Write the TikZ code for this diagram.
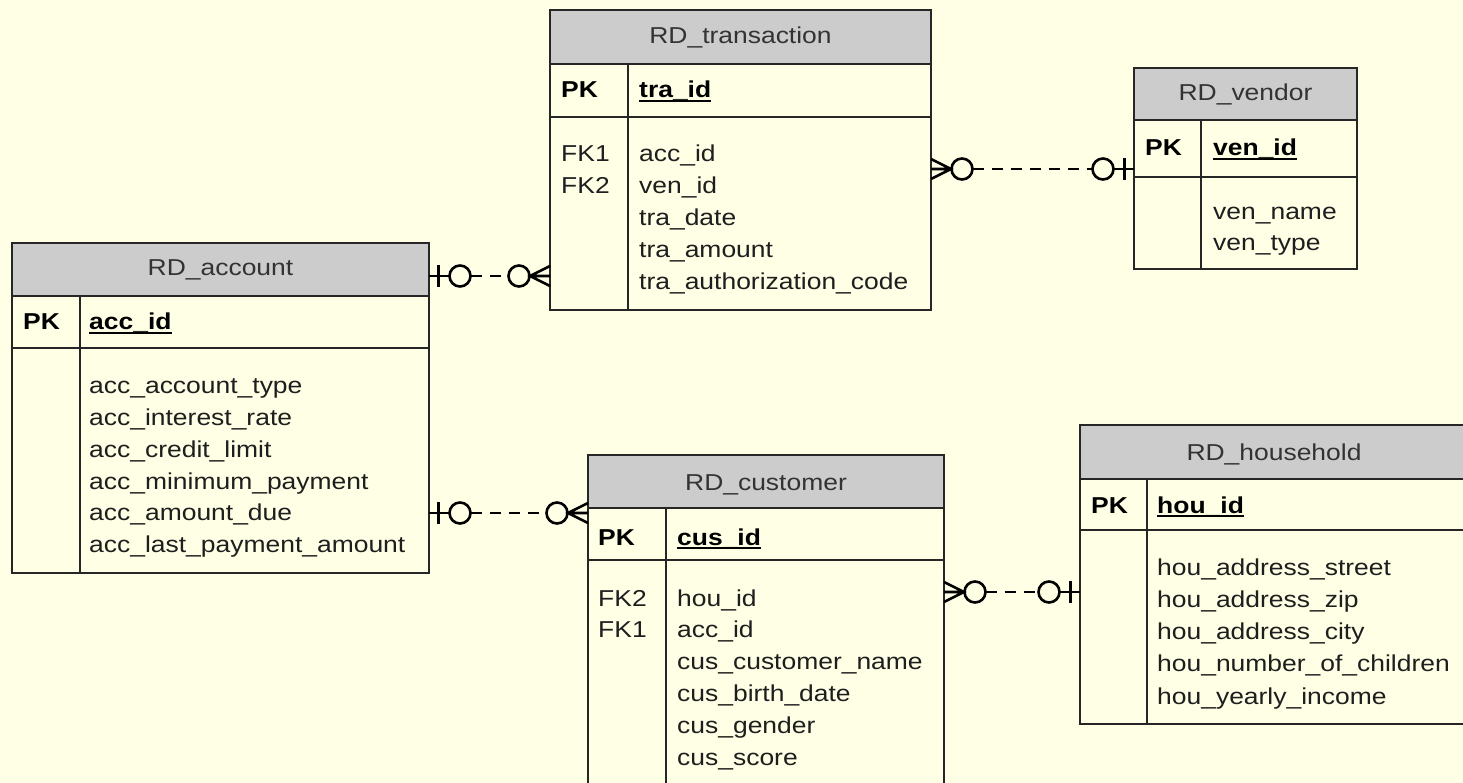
\documentclass[tikz,border=0pt]{standalone}
\usepackage{fontspec}
\setmainfont{Liberation Sans}[FakeStretch=1.15]
\usetikzlibrary{calc}

\definecolor{paper}{HTML}{FFFFE6}
\definecolor{hdrgray}{HTML}{CCCCCC}
\definecolor{ink}{HTML}{262626}
\definecolor{txt}{HTML}{1E1E1E}
\definecolor{ttl}{HTML}{333333}

% underlined primary-key field name
\newlength\pkw
\newcommand\pkul[1]{\settowidth\pkw{#1}\rlap{\rule[-0.17em]{\pkw}{0.08em}}#1}

% one table frame: name, x1, y1, x2, y2, header bottom, key-row bottom, column divider
\newcommand\erbox[8]{%
  \fill[hdr] (#2,#3) rectangle (#4,#6);
  \node[tbl, minimum width=#4pt-#2pt, minimum height=#5pt-#3pt, anchor=north west] (#1) at (#2,#3) {};
  \draw[rule] (#2,#6) -- (#4,#6) (#2,#7) -- (#4,#7) (#8,#6) -- (#8,#5);
}

\tikzset{
  tbl/.style={draw=ink, line width=2pt, inner sep=0pt, outer sep=0pt},
  rule/.style={draw=ink, line width=1.8pt},
  hdr/.style={fill=hdrgray},
  ttlnode/.style={anchor=base, inner sep=0pt, text=ttl, font=\fontsize{23}{28}\selectfont},
  keyname/.style={anchor=base west, inner sep=0pt, text=black, font=\fontsize{23}{28}\selectfont\bfseries},
  attr/.style={anchor=base west, inner sep=0pt, text=txt, font=\fontsize{23}{28}\selectfont},
  cardline/.style={draw=black, line width=2.6pt},
  rel/.style={draw=black, line width=2.4pt, dash pattern=on 11pt off 8pt,
    shorten <=41.5pt, shorten >=41.5pt},
  % zero-or-one end: bar and ring
  zeroone/.pic={
    \draw[cardline] (0,0) -- (20.5,0);
    \draw[cardline] (9.5,-11) -- (9.5,11);
    \draw[cardline] (31,0) circle (10.5pt);
  },
  % zero-or-many end: crow's foot and ring
  zeromany/.pic={
    \draw[cardline, line join=miter] (0,-10) -- (20,0) -- (0,10) (0,0) -- (20.5,0);
    \draw[cardline] (31,0) circle (10.5pt);
  }
}

\begin{document}
\begin{tikzpicture}[x=1pt, y=-1pt]
\useasboundingbox (0,0) rectangle (1463,783);
\clip (0,0) rectangle (1463,783);
\fill[paper] (0,0) rectangle (1463,783);

% ---------- RD_account ----------
\erbox{acc}{12}{243}{429}{573}{296}{348}{80}
\node[ttlnode] (acc-t) at (220.5,276) {RD\_account};
\node[keyname] (acc-pk) at (23,330) {PK};
\node[keyname] (acc-k) at (89,330) {\pkul{acc\_id}};
\node[attr] (acc-a1) at (89,393.5) {acc\_account\_type};
\node[attr] (acc-a2) at (89,425.3) {acc\_interest\_rate};
\node[attr] (acc-a3) at (89,457) {acc\_credit\_limit};
\node[attr] (acc-a4) at (89,489) {acc\_minimum\_payment};
\node[attr] (acc-a5) at (89,520.5) {acc\_amount\_due};
\node[attr] (acc-a6) at (89,552.3) {acc\_last\_payment\_amount};

% ---------- RD_transaction ----------
\erbox{tra}{550}{10}{931}{310}{64}{117}{628}
\node[ttlnode] (tra-t) at (740.5,44) {RD\_transaction};
\node[keyname] (tra-pk) at (561,98) {PK};
\node[keyname] (tra-k) at (639,98) {\pkul{tra\_id}};
\node[attr] (tra-f1) at (561,161.5) {FK1};
\node[attr] (tra-f2) at (561,193.5) {FK2};
\node[attr] (tra-a1) at (639,161.5) {acc\_id};
\node[attr] (tra-a2) at (639,193.5) {ven\_id};
\node[attr] (tra-a3) at (639,225.5) {tra\_date};
\node[attr] (tra-a4) at (639,257.5) {tra\_amount};
\node[attr] (tra-a5) at (639,290) {tra\_authorization\_code};

% ---------- RD_vendor ----------
\erbox{ven}{1134}{68}{1357}{269}{120}{177}{1201}
\node[ttlnode] (ven-t) at (1245.5,101) {RD\_vendor};
\node[keyname] (ven-pk) at (1145,156) {PK};
\node[keyname] (ven-k) at (1213,156) {\pkul{ven\_id}};
\node[attr] (ven-a1) at (1213,219.5) {ven\_name};
\node[attr] (ven-a2) at (1213,250.5) {ven\_type};

% ---------- RD_customer ----------
\erbox{cus}{588}{455}{944}{805}{508}{560}{666}
\node[ttlnode] (cus-t) at (766,490) {RD\_customer};
\node[keyname] (cus-pk) at (598,545) {PK};
\node[keyname] (cus-k) at (677,545) {\pkul{cus\_id}};
\node[attr] (cus-f1) at (598,606.5) {FK2};
\node[attr] (cus-f2) at (598,637.5) {FK1};
\node[attr] (cus-a1) at (677,606.5) {hou\_id};
\node[attr] (cus-a2) at (677,637.5) {acc\_id};
\node[attr] (cus-a3) at (677,669.5) {cus\_customer\_name};
\node[attr] (cus-a4) at (677,701.5) {cus\_birth\_date};
\node[attr] (cus-a5) at (677,733.5) {cus\_gender};
\node[attr] (cus-a6) at (677,765.5) {cus\_score};

% ---------- RD_household ----------
\erbox{hou}{1080}{425}{1468}{724}{479}{530}{1147}
\node[ttlnode] (hou-t) at (1274,460) {RD\_household};
\node[keyname] (hou-pk) at (1091,513) {PK};
\node[keyname] (hou-k) at (1157,513) {\pkul{hou\_id}};
\node[attr] (hou-a1) at (1157,575.5) {hou\_address\_street};
\node[attr] (hou-a2) at (1157,607.5) {hou\_address\_zip};
\node[attr] (hou-a3) at (1157,639.5) {hou\_address\_city};
\node[attr] (hou-a4) at (1157,671.5) {hou\_number\_of\_children};
\node[attr] (hou-a5) at (1157,704.5) {hou\_yearly\_income};

% ---------- relationships ----------
\coordinate (r1) at (0,276);
\coordinate (r2) at (0,169);
\coordinate (r3) at (0,513);
\coordinate (r4) at (0,592);

% account 0..1 -- 0..* transaction
\pic at (acc.east |- r1) {zeroone};
\pic[rotate=180] at (tra.west |- r1) {zeromany};
\draw[rel] (acc.east |- r1) -- (tra.west |- r1);

% transaction 0..* -- 0..1 vendor
\pic at (tra.east |- r2) {zeromany};
\pic[rotate=180] at (ven.west |- r2) {zeroone};
\draw[rel] (tra.east |- r2) -- (ven.west |- r2);

% account 0..1 -- 0..* customer
\pic at (acc.east |- r3) {zeroone};
\pic[rotate=180] at (cus.west |- r3) {zeromany};
\draw[rel] (acc.east |- r3) -- (cus.west |- r3);

% customer 0..* -- 0..1 household
\pic at (cus.east |- r4) {zeromany};
\pic[rotate=180] at (hou.west |- r4) {zeroone};
\draw[rel] (cus.east |- r4) -- (hou.west |- r4);
\end{tikzpicture}
\end{document}
